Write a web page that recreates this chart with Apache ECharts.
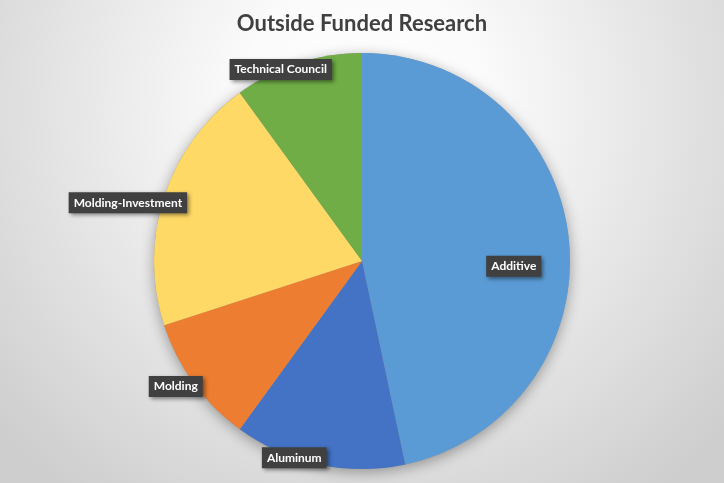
<!DOCTYPE html>
<html><head><meta charset="utf-8">
<script src="https://cdn.jsdelivr.net/npm/echarts@6/dist/echarts.min.js"></script>
<style>html,body{margin:0;padding:0;background:#fff;} #c{width:724px;height:483px;}</style>
</head><body><div id="c"></div>
<script>
// ---- data ----
const categories = ['Additive', 'Aluminum', 'Molding', 'Molding-Investment', 'Technical Council'];
const values = [14, 4, 3, 6, 3];
const titleText = 'Outside Funded Research';

// ---- styling ----
const colors = ['#5B9BD5', '#4472C4', '#ED7D31', '#FFD966', '#70AD47'];
const labelRadius = [0.73, 1.0, 1.08, 1.16, 1.0];
const labelAngleNudge = [8, 7, 2, -4, -5];

const CX = 362, CY = 261, R = 208;
const chart = echarts.init(document.getElementById('c'), null, {renderer: 'canvas'});

const bg = new echarts.graphic.RadialGradient(0.5, 0.22, 1.0, [
  {offset: 0, color: '#ffffff'},
  {offset: 0.25, color: '#fbfbfb'},
  {offset: 1, color: '#cecece'}
]);

chart.setOption({
  animation: false,
  backgroundColor: bg,
  title: {
    text: titleText,
    left: 'center',
    top: 8,
    textStyle: {fontFamily: 'Lato', fontWeight: 'bold', fontSize: 22, color: '#404040'}
  },
  series: [
    {
      type: 'pie',
      silent: true,
      center: [CX, CY],
      radius: R,
      z: 1,
      label: {show: false},
      labelLine: {show: false},
      data: [{value: 1, itemStyle: {color: '#9a9a9a', shadowBlur: 14, shadowColor: 'rgba(0,0,0,0.35)', shadowOffsetY: 3}}]
    },
    {
      type: 'pie',
      center: [CX, CY],
      radius: R,
      z: 2,
      startAngle: 90,
      clockwise: true,
      emphasis: {disabled: true},
      data: categories.map((c, i) => ({name: c, value: values[i], itemStyle: {color: colors[i]}})),
      label: {
        show: true,
        position: 'inside',
        formatter: '{b}',
        fontFamily: 'Lato',
        fontWeight: 'bold',
        fontSize: 12,
        color: '#ffffff',
        backgroundColor: '#404040',
        padding: [5, 5, 4, 5],
        shadowColor: 'rgba(0,0,0,0.45)',
        shadowBlur: 4,
        shadowOffsetX: 2,
        shadowOffsetY: 2
      },
      labelLine: {show: false},
      labelLayout: function (p) {
        const i = p.dataIndex;
        const lx = p.labelRect.x + p.labelRect.width / 2;
        const ly = p.labelRect.y + p.labelRect.height / 2;
        const ang = Math.atan2(ly - CY, lx - CX) + labelAngleNudge[i] * Math.PI / 180;
        const d = R * labelRadius[i];
        return {x: CX + d * Math.cos(ang), y: CY + d * Math.sin(ang), align: 'center', verticalAlign: 'middle'};
      }
    }
  ]
});
</script>
</body></html>
